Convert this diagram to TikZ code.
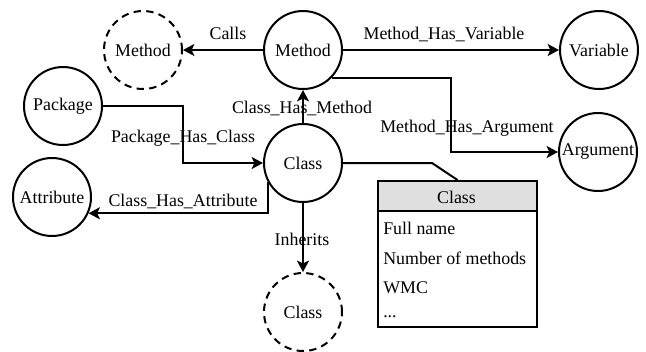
\documentclass[tikz,border=0pt]{standalone}
\usepackage{fontspec}
\setmainfont{Liberation Serif}
\usetikzlibrary{arrows.meta}

\tikzset{
  entity/.style={circle, draw, line width=1.5pt, minimum size=58.5pt, inner sep=0pt},
  ghost/.style={entity, dash pattern=on 5.5pt off 4pt},
  arr/.style={line width=1.5pt, -{Stealth[length=8.5pt,width=9pt,inset=2pt]}},
  link/.style={line width=1.5pt},
  lbl/.style={anchor=base, inner sep=0pt},
  row/.style={anchor=base west, inner sep=0pt},
}

\begin{document}
\begin{tikzpicture}[x=0.75pt, y=-0.75pt, font=\fontsize{13.4}{16}\selectfont]
  \useasboundingbox (0,0) rectangle (646,351);

  % entities
  \node[ghost]  (callee)  at (143,50)  {Method};
  \node[entity] (method)  at (303,50)  {Method};
  \node[entity] (var)     at (599,50)  {Variable};
  \node[entity] (arg)     at (598,152) {Argument};
  \node[entity] (pkg)     at (63,106)  {Package};
  \node[entity] (attr)    at (52,197)  {Attribute};
  \node[entity] (cls)     at (303,163) {Class};
  \node[ghost]  (parent)  at (303,312) {Class};

  % class metrics table
  \node[draw, line width=1.5pt, anchor=north west, minimum width=119.25pt,
        minimum height=109.5pt, inner sep=0pt] (box) at (377,180) {};
  \node[draw, line width=1.5pt, fill=gray!25, anchor=north west,
        minimum width=119.25pt, minimum height=22.5pt, inner sep=0pt] (boxhead) at (377,180) {};
  \node[lbl] (boxtitle) at (456.5,203) {Class};
  \node[row] (r1) at (383,234) {Full name};
  \node[row] (r2) at (383,264) {Number of methods};
  \node[row] (r3) at (383,293) {WMC};
  \node[row] (r4) at (383,317) {...};

  % bend points
  \coordinate (argx)  at (451,0);
  \coordinate (pkgx)  at (183,0);
  \coordinate (boxbend) at (432,163);

  % relations
  \draw[arr] (method) -- (callee);
  \draw[arr] (method) -- (var);
  \draw[arr] (method.-44) -| (argx |- arg.west) -- (arg.west);
  \draw[arr] (cls) -- (method);
  \draw[arr] (pkg.east) -| (pkgx |- cls.west) -- (cls.west);
  \draw[arr] (cls.208) |- (attr.-24);
  \draw[arr] (cls) -- (parent);
  \draw[link] (cls.east) -- (boxbend) -- (box.north);

  % relation labels
  \node[lbl] (lcalls) at (228,39)  {Calls};
  \node[lbl] (lvar)   at (444,39)  {Method\_Has\_Variable};
  \node[lbl] (larg)   at (467,132) {Method\_Has\_Argument};
  \node[lbl] (lmeth)  at (302,113) {Class\_Has\_Method};
  \node[lbl] (lpkg)   at (183,142) {Package\_Has\_Class};
  \node[lbl] (lattr)  at (183,206) {Class\_Has\_Attribute};
  \node[lbl] (linh)   at (302,245) {Inherits};
\end{tikzpicture}
\end{document}
